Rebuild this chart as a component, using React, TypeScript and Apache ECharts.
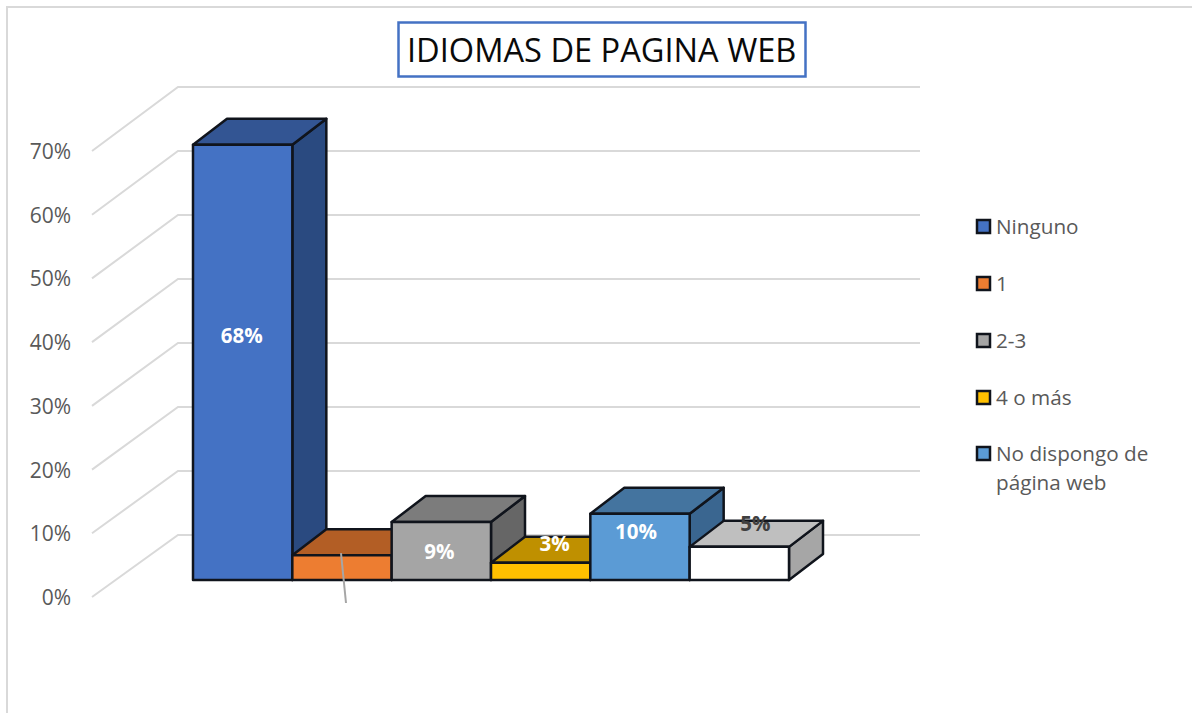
import React, { useEffect, useRef } from "react";
import * as echarts from "echarts";

const TITLE = "IDIOMAS DE PAGINA WEB";
const categories = ["Ninguno", "1", "2-3", "4 o más", "No dispongo de\npágina web", "(sin nombre)"];
const values = [0.683, 0.039, 0.091, 0.027, 0.104, 0.052];
const shownLabels = ["68%", "", "9%", "3%", "10%", "5%"];
const ticks = [0, 0.1, 0.2, 0.3, 0.4, 0.5, 0.6, 0.7];

const frontColors = ["#4472C4", "#ED7D31", "#A5A5A5", "#FFC000", "#5B9BD5", "#FFFFFF"];
const topColors = ["#335593", "#B35E25", "#7C7C7C", "#BF9000", "#44749F", "#BFBFBF"];
const sideColors = ["#2A4A80", "#8E4B1D", "#666666", "#997300", "#3A6690", "#A6A6A6"];
const labelColors = ["#FFFFFF", "#FFFFFF", "#FFFFFF", "#FFFFFF", "#FFFFFF", "#404040"];
const labelShiftX = [-1, 0, -2, 14, -4, 16];
const labelFromTop = [190, 0, 29, -20, 17, -24];

const FONT = '"Open Sans", sans-serif';
const DX = 34;
const DY = -26;
const FLOOR_SHIFT = -17;
const EDGE = "#10141c";

function barItem(i: number) {
  return (_params: any, api: any) => {
    const base = api.coord([api.value(0), 0]);
    const head = api.coord([api.value(0), api.value(1)]);
    const w = api.size([1, 0])[0];
    const x = base[0] - w / 2;
    const y0 = base[1] + FLOOR_SHIFT;
    const y1 = head[1] + FLOOR_SHIFT;
    const line = { stroke: EDGE, lineWidth: 2.5, lineJoin: "round" };
    const children: any[] = [
      {
        type: "polygon",
        shape: { points: [[x + w, y1], [x + w + DX, y1 + DY], [x + w + DX, y0 + DY], [x + w, y0]] },
        style: { fill: sideColors[i], ...line },
      },
      {
        type: "polygon",
        shape: { points: [[x, y1], [x + DX, y1 + DY], [x + w + DX, y1 + DY], [x + w, y1]] },
        style: { fill: topColors[i], ...line },
      },
      {
        type: "rect",
        shape: { x, y: y1, width: w, height: y0 - y1 },
        style: { fill: frontColors[i], ...line },
      },
    ];
    if (shownLabels[i]) {
      children.push({
        type: "text",
        x: x + w / 2 + labelShiftX[i],
        y: y1 + labelFromTop[i],
        style: {
          text: shownLabels[i],
          fill: labelColors[i],
          font: `bold 20.5px ${FONT}`,
          align: "center",
          verticalAlign: "middle",
        },
      });
    } else {
      children.push({
        type: "line",
        shape: { x1: x + w / 2 - 1, y1: y1 - 2, x2: x + w / 2 + 4, y2: y0 + 23 },
        style: { stroke: "#A6A6A6", lineWidth: 2 },
      });
    }
    return { type: "group", children };
  };
}

function wallItem(_params: any, api: any) {
  const y = api.coord([0, api.value(0)])[1];
  const corner = y - 64 + ((y - 151) * 2) / 446;
  return {
    type: "polyline",
    shape: { points: [[92, y], [178, corner], [920, corner]] },
    style: { fill: "none", stroke: "#D9D9D9", lineWidth: 2 },
  };
}

export default function App() {
  const ref = useRef<HTMLDivElement>(null);
  useEffect(() => {
    const chart = echarts.init(ref.current!, undefined, { renderer: "svg" });
    const legendRows = [226, 283, 340, 397, 453];
    chart.setOption({
      animation: false,
      backgroundColor: "#FFFFFF",
      title: {
        text: TITLE,
        left: 398,
        top: 22,
        padding: [5, 9, 5, 9],
        borderColor: "#4472C4",
        borderWidth: 2.5,
        backgroundColor: "#FFFFFF",
        textStyle: { fontFamily: FONT, fontSize: 32.6, fontWeight: "normal", color: "#0A0A0A", lineHeight: 45 },
      },
      grid: { left: 193, right: 403, top: 151, bottom: 116 },
      xAxis: { type: "category", data: categories, show: false },
      yAxis: {
        type: "value",
        min: 0,
        max: 0.7,
        interval: 0.1,
        axisLine: { show: false },
        axisTick: { show: false },
        splitLine: { show: false },
        axisLabel: {
          margin: 122,
          fontFamily: FONT,
          fontSize: 21,
          color: "#595959",
          formatter: (v: number) => `${Math.round(v * 100)}%`,
        },
      },
      graphic: [
        {
          type: "polyline",
          silent: true,
          shape: { points: [[7, 713], [7, 7], [1192, 7]] },
          style: { fill: "none", stroke: "#D9D9D9", lineWidth: 2 },
        },
        ...categories.slice(0, 5).flatMap((name, i) => [
          {
            type: "rect",
            shape: { x: 977, y: legendRows[i] - 6, width: 13, height: 13 },
            style: { fill: frontColors[i], stroke: EDGE, lineWidth: 2.5 },
          },
          {
            type: "text",
            x: 996,
            y: legendRows[i] - 15,
            style: {
              text: name,
              fill: "#595959",
              font: `20.7px ${FONT}`,
              lineHeight: 29,
              align: "left",
              verticalAlign: "top",
            },
          },
        ]),
      ],
      series: [
        {
          type: "custom",
          renderItem: wallItem,
          data: ticks.map((t) => [t]),
          encode: { y: 0 },
          clip: false,
          silent: true,
          z: 1,
        },
        ...values.map((v, i) => ({
          type: "custom",
          name: categories[i],
          renderItem: barItem(i),
          data: [[i, v]],
          encode: { x: 0, y: 1 },
          clip: false,
          silent: true,
          z: 2,
        })),
      ],
    });
    return () => chart.dispose();
  }, []);
  return <div ref={ref} style={{ position: "fixed", left: 0, top: 0, width: 1192, height: 713 }} />;
}
